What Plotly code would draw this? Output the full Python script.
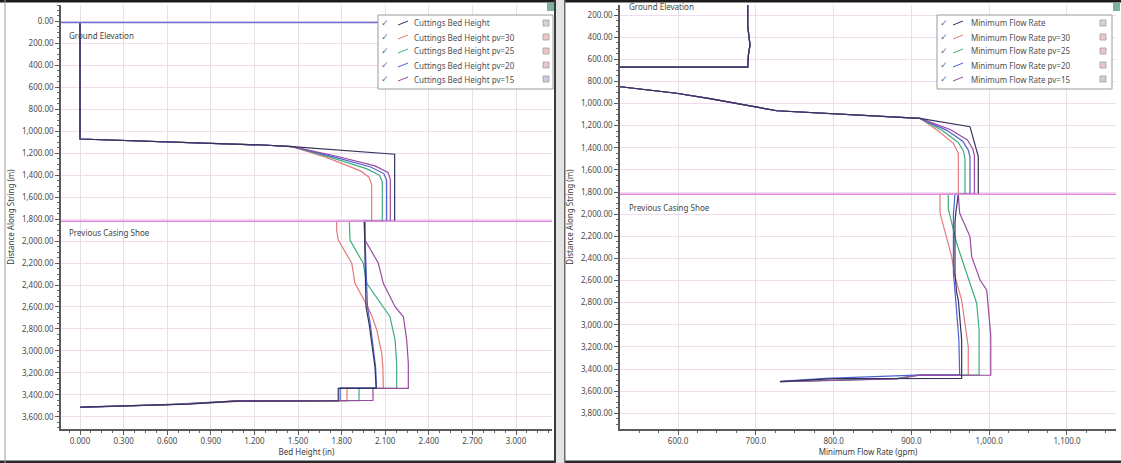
import plotly.graph_objects as go

W, H = 1121, 463

# ---------------- data ----------------
ground_elevation_m = 10
casing_shoe_m = 1820

bed_names = ["Cuttings Bed Height", "Cuttings Bed Height pv=30", "Cuttings Bed Height pv=25",
             "Cuttings Bed Height pv=20", "Cuttings Bed Height pv=15"]
flow_names = ["Minimum Flow Rate", "Minimum Flow Rate pv=30", "Minimum Flow Rate pv=25",
              "Minimum Flow Rate pv=20", "Minimum Flow Rate pv=15"]

# Left panel: bed height (in) vs distance along string (m)
bed_common_x = [0.0, 0.0, 1.26, 1.46]
bed_common_d = [10, 1070, 1125, 1140]

bed_main_x = [2.165, 2.165, 1.956, 1.958, 1.961, 1.965, 1.968, 1.99, 2.005, 2.018, 2.03, 2.037, 2.037, 1.777, 1.777, 1.07, 0.75, 0.0]
bed_main_d = [1209, 1820, 1820, 2000, 2200, 2400, 2597, 2760, 2900, 3019, 3150, 3326, 3341, 3341, 3455, 3458, 3485, 3512]

bed_pv30_x = [1.70, 1.93, 1.99, 2.007, 2.007, 1.766, 1.766, 1.777, 1.870, 1.892, 1.98, 2.01, 2.042, 2.062, 2.076, 2.084, 2.087, 2.087, 1.837, 1.837, 1.10, 0.65, 0.0]
bed_pv30_d = [1240, 1360, 1420, 1490, 1820, 1820, 1900, 1990, 2202, 2384, 2597, 2689, 2808, 2920, 3019, 3150, 3326, 3341, 3341, 3455, 3460, 3488, 3514]

bed_pv25_x = [1.72, 1.97, 2.06, 2.080, 2.080, 1.853, 1.858, 1.949, 1.973, 2.087, 2.133, 2.168, 2.179, 2.179, 2.179, 1.92, 1.92, 1.05, 0.62, 0.0]
bed_pv25_d = [1235, 1340, 1400, 1460, 1820, 1820, 1990, 2202, 2384, 2597, 2689, 2900, 3113, 3326, 3341, 3341, 3452, 3456, 3486, 3513]

bed_pv20_x = [1.74, 2.0, 2.09, 2.110, 2.110, 1.962, 1.962, 1.966, 1.972, 1.978, 1.998, 2.012, 2.024, 2.034, 2.04, 2.04, 1.79, 1.79, 1.10, 0.60, 0.0]
bed_pv20_d = [1230, 1325, 1385, 1445, 1820, 1820, 2000, 2200, 2400, 2597, 2760, 2900, 3019, 3150, 3326, 3336, 3336, 3450, 3455, 3490, 3515]

bed_pv15_x = [1.76, 2.03, 2.12, 2.135, 2.135, 1.956, 1.961, 2.053, 2.087, 2.168, 2.225, 2.248, 2.259, 2.259, 2.259, 2.016, 2.016, 1.08, 0.70, 0.0]
bed_pv15_d = [1225, 1315, 1375, 1435, 1820, 1820, 1990, 2202, 2384, 2597, 2689, 2900, 3113, 3326, 3341, 3341, 3450, 3454, 3484, 3511]

# Right panel: minimum flow rate (gpm) vs distance along string (m)
flow_common_x = [689.6, 689.6, 692.5, 690.5, 689.6, 300, 420, 526, 598, 639, 727, 802, 898, 911]
flow_common_d = [10, 300, 470, 560, 670, 670, 800, 848, 907, 953, 1065, 1095, 1130, 1134]

flow_main_x = [975.3, 986, 986, 960.3, 957, 956, 956, 958, 960.3, 963, 964.6, 964.6, 964.6, 800, 731]
flow_main_d = [1209, 1480, 1820, 1820, 1990, 2080, 2532, 2700, 2776, 2990, 3137, 3440, 3484, 3487, 3514]

flow_pv30_x = [935, 953.9, 960.3, 960.3, 936.8, 936.8, 951.8, 956, 964.6, 968.9, 973.1, 973.1, 973.1, 908.5, 881, 731]
flow_pv30_d = [1250, 1359, 1450, 1820, 1820, 1992, 2384, 2565, 2776, 2986, 3200, 3440, 3454, 3456, 3484, 3514]

flow_pv25_x = [940, 960, 967, 968.9, 968.9, 947.4, 947.4, 958.2, 966.7, 975.3, 983.9, 987, 987, 987, 908.5, 881, 735]
flow_pv25_d = [1245, 1350, 1430, 1500, 1820, 1820, 1950, 2263, 2444, 2625, 2805, 3047, 3440, 3452, 3455, 3486, 3514]

flow_pv20_x = [945, 966, 973, 975.3, 975.3, 956, 954, 954, 957, 961, 962, 962, 915, 790, 731]
flow_pv20_d = [1240, 1340, 1420, 1480, 1820, 1820, 2000, 2532, 2776, 3137, 3440, 3450, 3453, 3484, 3512]

flow_pv15_x = [950, 972, 979, 981, 981, 960.3, 962, 975.3, 977.5, 988.2, 996.8, 1001, 1002, 1002, 1002, 908.5, 881, 731]
flow_pv15_d = [1235, 1330, 1410, 1470, 1820, 1820, 1990, 2203, 2384, 2595, 2685, 2986, 3100, 3440, 3456, 3458, 3490, 3515]

series_colors = ["#34345c", "#e47a7a", "#3fae7c", "#4f5fd0", "#9a4aa0"]
swatch_colors = ["#d2d2de", "#f0c6c6", "#ecc4c8", "#e9c6cc", "#d8c8de"]

# ---------------- figure ----------------
def pxx(x):
    return x / W

def pyy(y):
    return 1 - y / H

fig = go.Figure()

bed_x = [bed_main_x, bed_pv30_x, bed_pv25_x, bed_pv20_x, bed_pv15_x]
bed_d = [bed_main_d, bed_pv30_d, bed_pv25_d, bed_pv20_d, bed_pv15_d]
flow_x = [flow_main_x, flow_pv30_x, flow_pv25_x, flow_pv20_x, flow_pv15_x]
flow_d = [flow_main_d, flow_pv30_d, flow_pv25_d, flow_pv20_d, flow_pv15_d]

order = [1, 2, 3, 4, 0]
for i in order:
    fig.add_trace(go.Scatter(x=bed_common_x + bed_x[i], y=bed_common_d + bed_d[i], mode="lines",
                             name=bed_names[i], line=dict(color=series_colors[i], width=1.2),
                             xaxis="x", yaxis="y", showlegend=False))
    fig.add_trace(go.Scatter(x=flow_common_x + flow_x[i], y=flow_common_d + flow_d[i], mode="lines",
                             name=flow_names[i], line=dict(color=series_colors[i], width=1.2),
                             xaxis="x2", yaxis="y2", showlegend=False))

tick_font = dict(family="Noto Sans, Open Sans, sans-serif", size=8, color="#4a4a4a")
title_font = dict(family="Noto Sans, Open Sans, sans-serif", size=8, color="#3a3a3a")

def xax(domain, rng, dtick, fmt, minor, title, anchor):
    return dict(domain=domain, range=rng, tick0=0, dtick=dtick, tickformat=fmt,
                showline=True, linecolor="#5a5a5a", linewidth=1.5, ticks="outside", ticklen=4,
                tickcolor="#5a5a5a", tickfont=tick_font, showgrid=True, gridcolor="#e3e3e6",
                gridwidth=1, zeroline=False, automargin=False, anchor=anchor,
                minor=dict(dtick=minor, ticks="outside", ticklen=2, tickcolor="#6a6a6a", showgrid=False),
                title=dict(text=title, font=title_font, standoff=4))

def yax(domain, rng, title, anchor):
    return dict(domain=domain, range=rng, tick0=0, dtick=200, tickformat=",.2f",
                showline=True, linecolor="#5a5a5a", linewidth=1.5, ticks="outside", ticklen=4,
                tickcolor="#5a5a5a", tickfont=tick_font, showgrid=True, gridcolor="#efdcee",
                gridwidth=1, zeroline=False, automargin=False, anchor=anchor,
                minor=dict(dtick=50, ticks="outside", ticklen=2, tickcolor="#6a6a6a", showgrid=False),
                title=dict(text=title, font=title_font, standoff=6))

ydom = [1 - 429 / H, 1 - 5 / H]
fig.update_layout(
    width=W, height=H, margin=dict(l=0, r=0, t=0, b=0),
    paper_bgcolor="white", plot_bgcolor="white", template="none", showlegend=False,
    xaxis=xax([61 / W, 552 / W], [-0.1307, 3.2477], 0.3, ".3f", 0.075, "Bed Height (in)", "y"),
    yaxis=yax(ydom, [3711, -150], "Distance Along String (m)", "x"),
    xaxis2=xax([620 / W, 1116 / W], [525.4, 1163.0], 100, ",.1f", 25, "Minimum Flow Rate (gpm)", "y2"),
    yaxis2=yax(ydom, [3942, 109], "Distance Along String (m)", "x2"),
)

shapes = []
# reference lines
for xr, yr in [("x domain", "y"), ("x2 domain", "y2")]:
    shapes.append(dict(type="line", xref=xr, yref=yr, x0=0, x1=1, y0=ground_elevation_m, y1=ground_elevation_m,
                       line=dict(color="#6f6fd4", width=1.5), layer="above"))
    shapes.append(dict(type="line", xref=xr, yref=yr, x0=0, x1=1, y0=casing_shoe_m, y1=casing_shoe_m,
                       line=dict(color="#e487e4", width=1.5), layer="above"))

annotations = []
def label(text, x, y, size=8, color="#444444", anchor="left", family="Noto Sans, Open Sans, sans-serif"):
    annotations.append(dict(text=text, x=pxx(x), y=pyy(y), xref="paper", yref="paper", showarrow=False,
                            xanchor=anchor, yanchor="middle", font=dict(family=family, size=size, color=color)))

label("Ground Elevation", 67, 35)
label("Previous Casing Shoe", 67, 233)
label("Ground Elevation", 627, 7)
label("Previous Casing Shoe", 627, 207)

# legends (drawn as boxes with check marks, glyphs, text, swatches)
def legend(box, names, check_x, glyph_x0, text_x, sw_x):
    x0, y0, x1, y1 = box
    shapes.append(dict(type="rect", xref="paper", yref="paper", x0=pxx(x0), x1=pxx(x1), y0=pyy(y1), y1=pyy(y0),
                       line=dict(color="#9a9a9a", width=1), fillcolor="white", layer="above"))
    for k, nm in enumerate(names):
        y = 23 + 14 * k
        label("✓", check_x, y, size=9, color="#5a6e9a", anchor="center", family="DejaVu Sans")
        shapes.append(dict(type="line", xref="paper", yref="paper", x0=pxx(glyph_x0), x1=pxx(glyph_x0 + 10),
                           y0=pyy(y + 2), y1=pyy(y - 2), line=dict(color=series_colors[k], width=1), layer="above"))
        label(nm, text_x, y, size=8, color="#505050")
        shapes.append(dict(type="rect", xref="paper", yref="paper", x0=pxx(sw_x), x1=pxx(sw_x + 6),
                           y0=pyy(y + 3), y1=pyy(y - 3), line=dict(color="#a0a0a0", width=0.8),
                           fillcolor=swatch_colors[k], layer="above"))

legend((378, 15, 553, 89), bed_names, 385, 398, 412, 543)
legend((937, 15, 1112, 89), flow_names, 944, 953, 969, 1100)

# panel frames
def prect(x0, y0, x1, y1, fill, line=None):
    shapes.append(dict(type="rect", xref="paper", yref="paper", x0=pxx(x0), x1=pxx(x1), y0=pyy(y1), y1=pyy(y0),
                       fillcolor=fill, line=dict(width=0) if line is None else line, layer="above"))

prect(0, 0, W, 2.5, "#1c1c1c")
prect(0, 460.5, W, H, "#2a2a2a")
prect(4.5, 0, 5.5, H, "#9a9a9a")
prect(554, 0, 565, H, "#e4e4e4")
prect(554, 0, 556, H, "#3a3a3a")
prect(564, 0, 565.5, H, "#6a6a6a")
prect(547, 3, 554, 11, "#7fb09a")
prect(1113, 3, 1120, 11, "#7fb09a")

fig.update_layout(shapes=shapes, annotations=annotations)
fig.write_html("out.html")
